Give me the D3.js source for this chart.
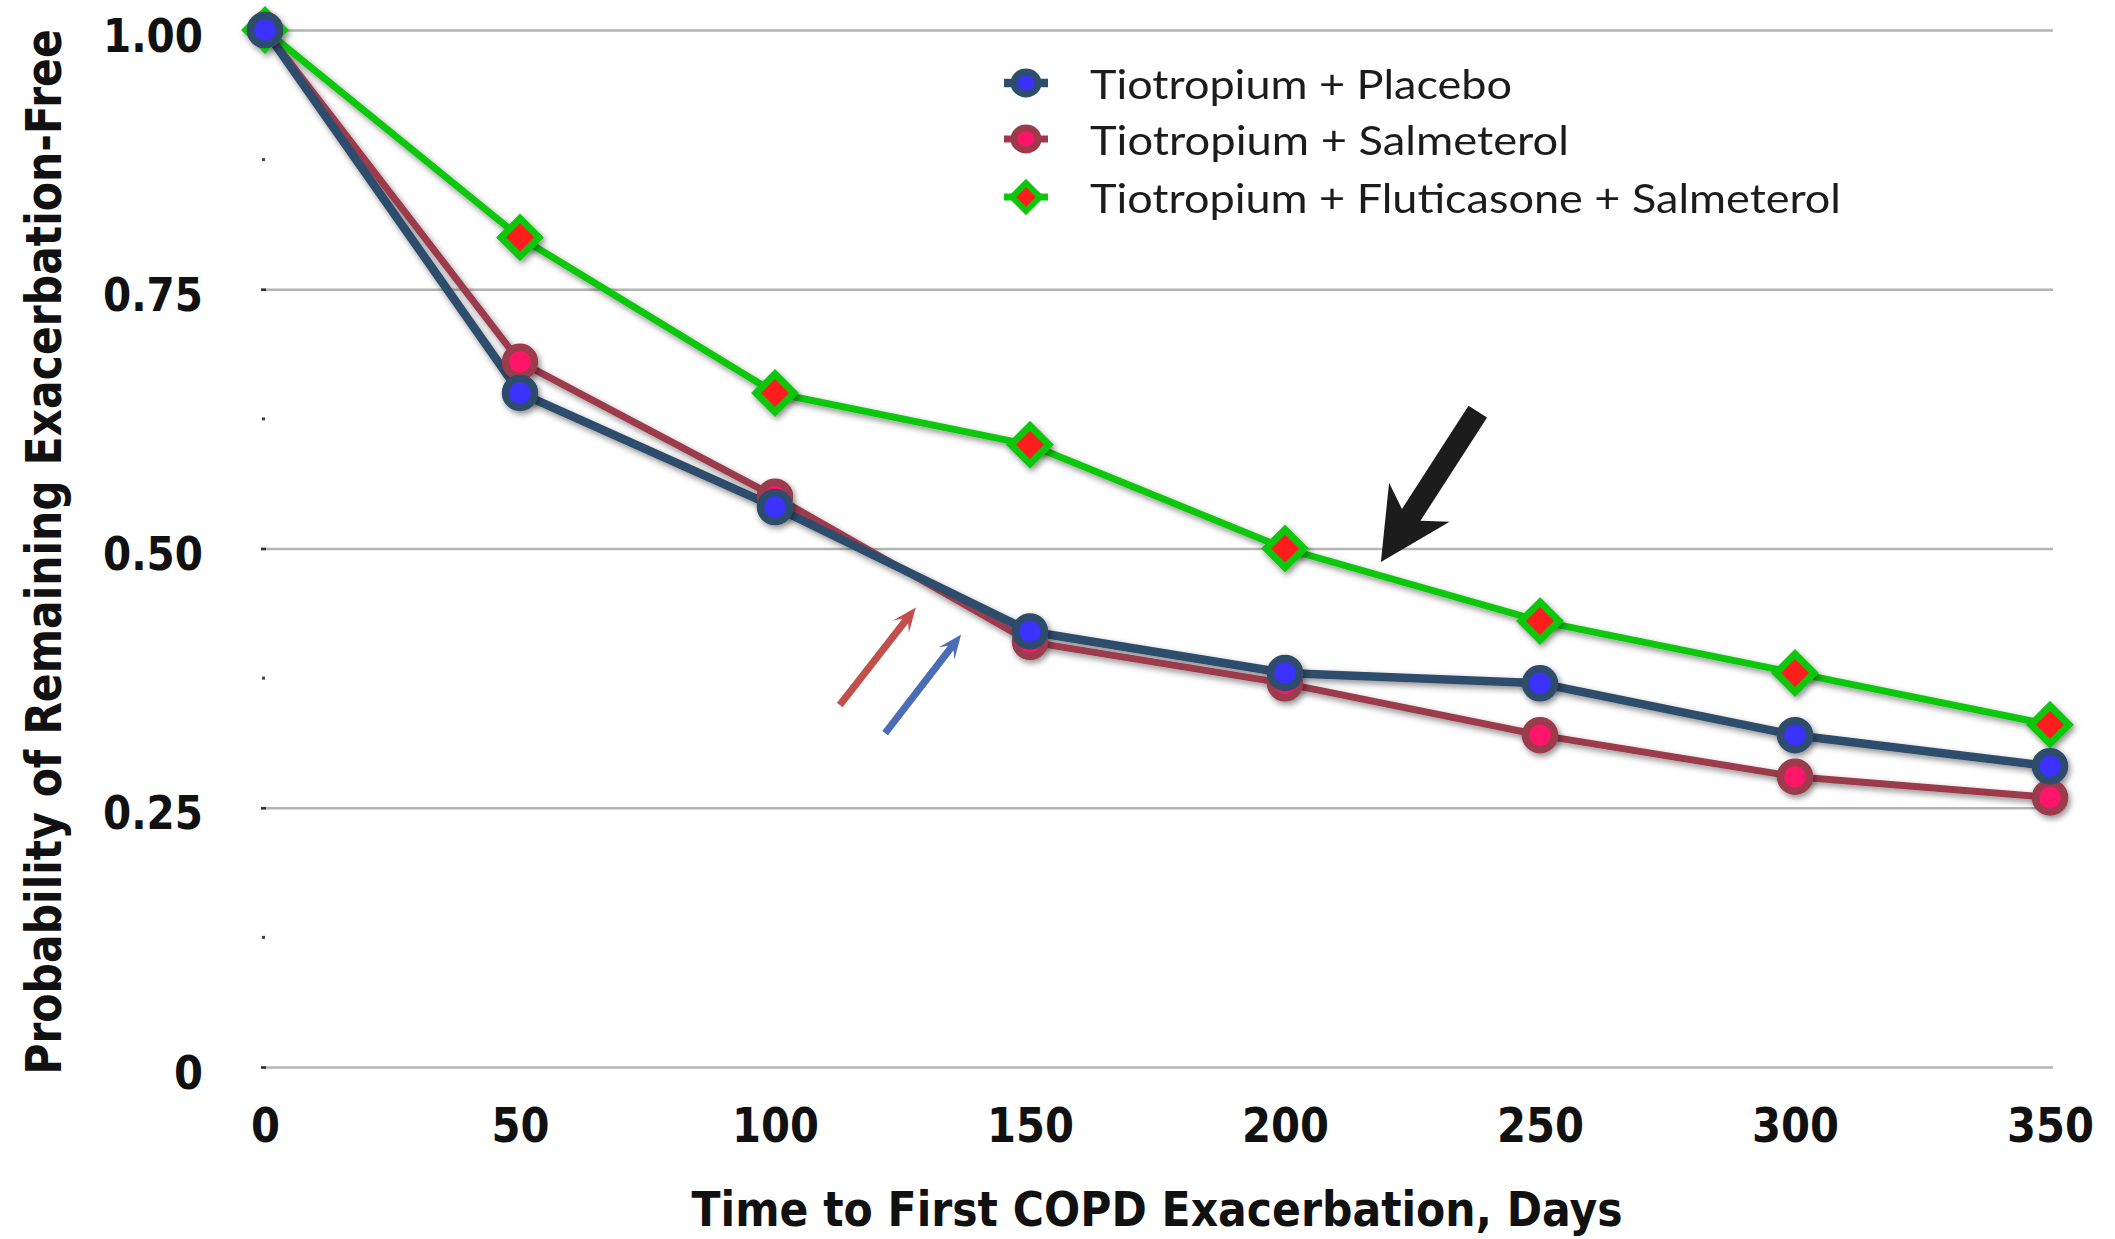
<!DOCTYPE html>
<html>
<head>
<meta charset="utf-8">
<script src="https://cdn.jsdelivr.net/npm/d3@7"></script>
<style>
  html, body { margin: 0; padding: 0; background: #fff; }
  svg { display: block; }
</style>
</head>
<body>
<svg id="chart" width="2115" height="1239"></svg>
<script>
// Time to first COPD exacerbation (days) and probability of remaining exacerbation-free
const days = [0, 50, 100, 150, 200, 250, 300, 350];
const placebo = [1.00, 0.65, 0.54, 0.42, 0.38, 0.37, 0.32, 0.29];
const salmeterol = [1.00, 0.68, 0.55, 0.41, 0.37, 0.32, 0.28, 0.26];
const flutSalm = [1.00, 0.80, 0.65, 0.60, 0.50, 0.43, 0.38, 0.33];

const seriesNames = [
  "Tiotropium + Placebo",
  "Tiotropium + Salmeterol",
  "Tiotropium + Fluticasone + Salmeterol"
];

const yTicks = [0, 0.25, 0.5, 0.75, 1];
const yTickLabels = ["0", "0.25", "0.50", "0.75", "1.00"];
const yMinorTicks = [0.125, 0.375, 0.625, 0.875];
const xTicks = [0, 50, 100, 150, 200, 250, 300, 350];

// Callout arrows, in data units: [day, probability]
const arrowFrom = [[112.7, 0.349], [121.6, 0.322], [237.8, 0.632]];
const arrowTo = [[127.6, 0.443], [136.5, 0.417], [218.8, 0.487]];

const svg = d3.select("#chart");
const x = d3.scaleLinear().domain([0, 350]).range([265, 2050]);
const y = d3.scaleLinear().domain([0, 1]).range([1067, 30]);

const defs = svg.append("defs");
const f = defs.append("filter").attr("id", "shadow")
  .attr("x", "-10%").attr("y", "-10%").attr("width", "130%").attr("height", "130%");
f.append("feDropShadow").attr("dx", 2).attr("dy", 3).attr("stdDeviation", 3)
  .attr("flood-color", "#000").attr("flood-opacity", 0.45);

// Horizontal gridlines + left tick stubs
const yAxis = d3.axisLeft(y).tickValues(yTicks).tickSize(0).tickFormat((d, i) => yTickLabels[i]);
const gy = svg.append("g").attr("transform", `translate(${x(0) - 4},0)`).call(yAxis);
gy.select(".domain").remove();
gy.selectAll(".tick text")
  .attr("x", 203 - (x(0) - 4))
  .attr("dy", "0.45em")
  .attr("text-anchor", "end")
  .attr("font-family", "DejaVu Sans, Verdana, sans-serif")
  .attr("font-weight", "bold")
  .attr("font-size", 47)
  .attr("fill", "#111")
  .each(function (d, i) {
    const t = yTickLabels[i];
    const digits = t.replace(".", "").length;
    const w = digits * 29 + (t.includes(".") ? 13 : 0);
    d3.select(this).attr("textLength", w).attr("lengthAdjust", "spacingAndGlyphs");
  });
gy.selectAll(".tick").append("line")
  .attr("x1", 0).attr("x2", x(350) + 3 - (x(0) - 4))
  .attr("stroke", "#b4b4b4").attr("stroke-width", 2.6);
gy.selectAll(".tick").append("line")
  .attr("x1", 0).attr("x2", 5)
  .attr("stroke", "#333").attr("stroke-width", 2.6);

// Minor tick dots
svg.append("g").selectAll("rect").data(yMinorTicks).join("rect")
  .attr("x", x(0) - 3).attr("y", d => y(d) - 1.5)
  .attr("width", 3).attr("height", 3).attr("fill", "#444");

// X tick labels
const xAxis = d3.axisBottom(x).tickValues(xTicks).tickSize(0).tickFormat(d3.format("d"));
const gx = svg.append("g").attr("transform", "translate(0,1142)").call(xAxis);
gx.select(".domain").remove();
gx.selectAll(".tick text")
  .attr("y", 0).attr("dy", 0)
  .attr("font-family", "DejaVu Sans, Verdana, sans-serif")
  .attr("font-weight", "bold")
  .attr("font-size", 48)
  .attr("fill", "#111")
  .attr("textLength", d => String(d).length * 29)
  .attr("lengthAdjust", "spacingAndGlyphs");

// Axis titles
svg.append("text")
  .attr("x", 1157).attr("y", 1226)
  .attr("text-anchor", "middle")
  .attr("font-family", "DejaVu Sans, Verdana, sans-serif")
  .attr("font-weight", "bold").attr("font-size", 48).attr("fill", "#111")
  .attr("textLength", 931).attr("lengthAdjust", "spacingAndGlyphs")
  .text("Time to First COPD Exacerbation, Days");

// Vertical title: narrowed along its length with a scale so it spans the plot height
const yTitle = svg.append("text")
  .attr("text-anchor", "middle")
  .attr("font-family", "DejaVu Sans, Verdana, sans-serif")
  .attr("font-weight", "bold").attr("font-size", 49).attr("fill", "#111")
  .text("Probability of Remaining Exacerbation-Free");
const yTitleNatural = yTitle.node().getComputedTextLength();
yTitle.attr("transform", `translate(61,552) rotate(-90) scale(${1046 / yTitleNatural},1)`);

// Series styling
const series = [
  { name: seriesNames[2], values: flutSalm, line: "#0cc70c", fill: "#ff1e1e", lw: 7, shape: "diamond" },
  { name: seriesNames[1], values: salmeterol, line: "#9c3a4c", fill: "#ff1468", lw: 7, shape: "circle" },
  { name: seriesNames[0], values: placebo, line: "#2f4d6c", fill: "#3a30ff", lw: 8.5, shape: "circle" }
];

const line = d3.line().x(d => x(d[0])).y(d => y(d[1]));
const diamondPath = h => `M0,${-h}L${h},0L0,${h}L${-h},0Z`;

const linesG = svg.append("g").attr("filter", "url(#shadow)");
series.forEach(s => {
  linesG.append("path")
    .datum(days.map((d, i) => [d, s.values[i]]))
    .attr("d", line)
    .attr("fill", "none")
    .attr("stroke", s.line)
    .attr("stroke-width", s.lw)
    .attr("stroke-linejoin", "round");
});

function drawMarker(g, s) {
  if (s.shape === "diamond") {
    g.append("path").attr("d", diamondPath(19))
      .attr("fill", s.fill).attr("stroke", s.line).attr("stroke-width", 7)
      .attr("stroke-linejoin", "miter");
  } else {
    g.append("circle").attr("r", 14.5)
      .attr("fill", s.fill).attr("stroke", s.line).attr("stroke-width", 7.5);
  }
}

const marksG = svg.append("g").attr("filter", "url(#shadow)");
series.forEach(s => {
  days.forEach((d, i) => {
    const g = marksG.append("g").attr("transform", `translate(${x(d)},${y(s.values[i])})`);
    drawMarker(g, s);
  });
});

// Legend
const legendOrder = [series[2], series[1], series[0]];
const legendY = [83, 139, 197];
const legendW = [422, 479, 751];
const lg = svg.append("g");
legendOrder.forEach((s, i) => {
  const g = lg.append("g").attr("transform", `translate(1026,${legendY[i]})`);
  g.append("line").attr("x1", -22).attr("x2", 22)
    .attr("stroke", s.line).attr("stroke-width", s.lw);
  if (s.shape === "diamond") {
    g.append("path").attr("d", diamondPath(14))
      .attr("fill", s.fill).attr("stroke", s.line).attr("stroke-width", 6);
  } else {
    g.append("ellipse").attr("rx", 12).attr("ry", 11)
      .attr("fill", s.fill).attr("stroke", s.line).attr("stroke-width", 7);
  }
  lg.append("text")
    .attr("x", 1090).attr("y", legendY[i] + 16)
    .attr("font-family", "Lato, 'Open Sans', sans-serif")
    .attr("font-size", 41).attr("fill", "#1c1c1c")
    .attr("textLength", legendW[i]).attr("lengthAdjust", "spacingAndGlyphs")
    .text(s.name);
});

// Callout arrows
const arrowStyle = [
  { color: "#c24f4c", s: 3.6, L: 24, H: 10, n: 7 },
  { color: "#4a6db5", s: 3.6, L: 24, H: 10, n: 7 },
  { color: "#1c1c1c", s: 11, L: 71, H: 36, n: 15 }
];
function arrowPoints(p0, p1, st) {
  const dx = p1[0] - p0[0], dy = p1[1] - p0[1];
  const len = Math.hypot(dx, dy);
  const ux = dx / len, uy = dy / len;
  const px = -uy, py = ux;
  const at = (back, side) => [p1[0] - ux * back + px * side, p1[1] - uy * back + py * side];
  return [
    [p0[0] + px * st.s, p0[1] + py * st.s],
    at(st.L - st.n, st.s),
    at(st.L, st.H),
    p1,
    at(st.L, -st.H),
    at(st.L - st.n, -st.s),
    [p0[0] - px * st.s, p0[1] - py * st.s]
  ];
}
svg.append("g").selectAll("polygon").data(arrowFrom).join("polygon")
  .attr("points", (d, i) => arrowPoints([x(d[0]), y(d[1])], [x(arrowTo[i][0]), y(arrowTo[i][1])], arrowStyle[i])
    .map(p => p.join(",")).join(" "))
  .attr("fill", (d, i) => arrowStyle[i].color);
</script>
</body>
</html>
